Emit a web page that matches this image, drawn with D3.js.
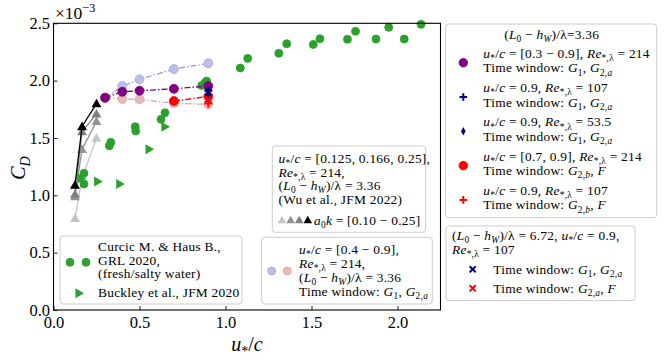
<!DOCTYPE html>
<html>
<head>
<meta charset="UTF-8">
<script src="https://cdn.jsdelivr.net/npm/d3@7"></script>
<style>
body { margin: 0; background: #fff; }
text { font-family: "Liberation Serif", serif; fill: #000; white-space: pre; }
text.leg { letter-spacing: 0.25px; }
</style>
</head>
<body>
<svg id="chart" width="664" height="361"></svg>
<script>
// values, C_D in units of 1e-3
var xTicks = [0, 0.5, 1.0, 1.5, 2.0];
var yTicks = [0, 0.5, 1.0, 1.5, 2.0, 2.5];

var curcicX = [0.177, 0.177, 0.325, 0.333, 0.475, 0.478, 0.625, 0.648, 0.862, 0.88, 0.89,
               1.086, 1.129, 1.310, 1.356, 1.510, 1.549, 1.709, 1.756, 1.875, 1.949, 2.039, 2.137];
var curcicY = [1.192, 1.099, 1.432, 1.462, 1.598, 1.561, 1.663, 1.720, 1.958, 1.98, 1.996,
               2.110, 2.194, 2.238, 2.322, 2.316, 2.365, 2.360, 2.430, 2.363, 2.465, 2.363, 2.491];

var buckleyX = [0.157, 0.253, 0.381, 0.552, 0.644];
var buckleyY = [1.146, 1.120, 1.099, 1.401, 1.598];

// Wu et al. 2022, one series per a0k, light to dark
var wuX = [0.125, 0.166, 0.25];
var wuY = [
  [0.80, 1.15, 1.50],
  [0.99, 1.40, 1.645],
  [1.01, 1.555, 1.71],
  [1.09, 1.60, 1.80]
];
var wuColors = ["#c4c4c4", "#939393", "#7f7f7f", "#000000"];

var seriesX = [0.3, 0.4, 0.5, 0.7, 0.9];
var lightBlueY = [1.851, 1.953, 2.011, 2.101, 2.151];
var lightRedY = [1.851, 1.840, 1.837, 1.802, 1.793];
var purpleY = [1.851, 1.903, 1.912, 1.929, 1.953];
var redX = [0.7, 0.9];
var redY = [1.822, 1.862];

var navyPlus = [0.9, 1.912];
var navyDiamond = [0.9, 1.885];
var blueCross = [0.9, 1.898];
var redCross = [0.9, 1.838];
var redPlus = [0.9, 1.800];

var svg = d3.select("#chart");
var x = d3.scaleLinear().domain([0, 2.25]).range([53.5, 440.5]);
var y = d3.scaleLinear().domain([0, 2.5]).range([310, 23.3]);

// writes a string with $..$ math parts into a text node as tspans
function mathText(sel, str, size) {
  var runs = [], math = false, i = 0;
  function push(t, it, lvl) {
    var last = runs[runs.length - 1];
    if (last && last.it === it && last.lvl === lvl) last.t += t;
    else runs.push({t: t, it: it, lvl: lvl});
  }
  while (i < str.length) {
    var c = str[i];
    if (c === "$") { math = !math; i++; continue; }
    if (math && (c === "_" || c === "^")) {
      var lvl = c === "_" ? -1 : 1, grp;
      i++;
      if (str[i] === "{") { var j = str.indexOf("}", i); grp = str.slice(i + 1, j); i = j + 1; }
      else { grp = str[i]; i++; }
      for (var k = 0; k < grp.length; k++) push(grp[k], /[A-Za-z]/.test(grp[k]), lvl);
      continue;
    }
    push(c, math && /[A-Za-z]/.test(c), 0);
    i++;
  }
  var prev = 0;
  runs.forEach(function(r) {
    var shift = r.lvl === -1 ? size * 0.25 : r.lvl === 1 ? -size * 0.42 : 0;
    sel.append("tspan")
      .attr("dy", shift - prev)
      .style("font-style", r.it ? "italic" : "normal")
      .style("font-size", (r.lvl ? size * 0.7 : size) + "px")
      .text(r.t);
    prev = shift;
  });
  return sel;
}

// marker drawing
function marker(g, type, px, py, color, opts) {
  opts = opts || {};
  var s = opts.size || 4.5;
  if (type === "circle") {
    g.append("circle").attr("cx", px).attr("cy", py).attr("r", s)
      .attr("fill", color).attr("stroke", opts.stroke || color).attr("stroke-width", 0.8);
  } else if (type === "tri") {
    g.append("path").attr("d", d3.symbol(d3.symbolTriangle, s * s * 2.2)())
      .attr("transform", "translate(" + px + "," + (py + 0.8) + ")").attr("fill", color);
  } else if (type === "right") {
    g.append("path").attr("d", d3.symbol(d3.symbolTriangle, s * s * 2.2)())
      .attr("transform", "translate(" + px + "," + py + ") rotate(90)").attr("fill", color);
  } else if (type === "plus") {
    g.append("path").attr("d", "M" + (px - s) + "," + py + "H" + (px + s) + "M" + px + "," + (py - s) + "V" + (py + s))
      .attr("stroke", color).attr("stroke-width", 2).attr("fill", "none");
  } else if (type === "cross") {
    var d = s * 0.8;
    g.append("path").attr("d", "M" + (px - d) + "," + (py - d) + "L" + (px + d) + "," + (py + d) + "M" + (px - d) + "," + (py + d) + "L" + (px + d) + "," + (py - d))
      .attr("stroke", color).attr("stroke-width", 2).attr("fill", "none");
  } else if (type === "diamond") {
    g.append("path").attr("d", "M" + px + "," + (py - s * 1.1) + "L" + (px + s * 0.6) + "," + py + "L" + px + "," + (py + s * 1.1) + "L" + (px - s * 0.6) + "," + py + "Z")
      .attr("fill", color);
  }
}

var plot = svg.append("g");
var line = d3.line().x(function(d) { return x(d[0]); }).y(function(d) { return y(d[1]); });
var dashDot = "6,2,1.5,2";

// Wu et al. triangles
wuY.forEach(function(vals, si) {
  var pts = wuX.map(function(v, k) { return [v, vals[k]]; });
  plot.append("path").attr("d", line(pts)).attr("fill", "none")
    .attr("stroke", wuColors[si]).attr("stroke-width", 1.3);
  pts.forEach(function(p) { marker(plot, "tri", x(p[0]), y(p[1]), wuColors[si], {size: 4.4}); });
});

// green data
curcicX.forEach(function(v, k) { marker(plot, "circle", x(v), y(curcicY[k]), "#2ca02c", {size: 4}); });
buckleyX.forEach(function(v, k) { marker(plot, "right", x(v), y(buckleyY[k]), "#2ca02c", {size: 4.4}); });

// light series
function zipX(xs, ys) { return xs.map(function(v, k) { return [v, ys[k]]; }); }
plot.append("path").attr("d", line(zipX(seriesX, lightBlueY))).attr("fill", "none")
  .attr("stroke", "#7b7bd0").attr("stroke-opacity", 0.8).attr("stroke-width", 1.2).attr("stroke-dasharray", dashDot);
plot.append("path").attr("d", line(zipX(seriesX, lightRedY))).attr("fill", "none")
  .attr("stroke", "#d08a8a").attr("stroke-opacity", 0.8).attr("stroke-width", 1.2).attr("stroke-dasharray", dashDot);
seriesX.forEach(function(v, k) {
  marker(plot, "circle", x(v), y(lightBlueY[k]), "#bdbdec", {size: 4.5, stroke: "#a5a5e0"});
  marker(plot, "circle", x(v), y(lightRedY[k]), "#e6baba", {size: 4.5, stroke: "#dca5a5"});
});

// purple and red
plot.append("path").attr("d", line(zipX(seriesX, purpleY))).attr("fill", "none")
  .attr("stroke", "#800080").attr("stroke-width", 1.3).attr("stroke-dasharray", dashDot);
plot.append("path").attr("d", line(zipX(redX, redY))).attr("fill", "none")
  .attr("stroke", "#ff0000").attr("stroke-width", 1.3).attr("stroke-dasharray", dashDot);
seriesX.forEach(function(v, k) { marker(plot, "circle", x(v), y(purpleY[k]), "#800080", {size: 4.5}); });
redX.forEach(function(v, k) { marker(plot, "circle", x(v), y(redY[k]), "#ff0000", {size: 4.5}); });

marker(plot, "plus", x(redPlus[0]), y(redPlus[1]), "#ff0000", {size: 4});
marker(plot, "cross", x(redCross[0]), y(redCross[1]), "#ff0000", {size: 4});
marker(plot, "diamond", x(navyDiamond[0]), y(navyDiamond[1]), "#000080", {size: 4.5});
marker(plot, "cross", x(blueCross[0]), y(blueCross[1]), "#000080", {size: 4});
marker(plot, "plus", x(navyPlus[0]), y(navyPlus[1]), "#000080", {size: 4});

// axes
var xAxis = d3.axisBottom(x).tickValues(xTicks).tickFormat(d3.format(".1f"))
  .tickSizeInner(-4).tickSizeOuter(0).tickPadding(6);
var yAxis = d3.axisLeft(y).tickValues(yTicks).tickFormat(d3.format(".1f"))
  .tickSizeInner(-4).tickSizeOuter(0).tickPadding(3.5);
var gx = svg.append("g").attr("transform", "translate(0,310)").call(xAxis);
var gy = svg.append("g").attr("transform", "translate(53.5,0)").call(yAxis);
[gx, gy].forEach(function(g) {
  g.select(".domain").remove();
  g.selectAll("line").attr("stroke", "#000").attr("stroke-width", 0.9);
  g.selectAll("text").attr("font-family", "Liberation Serif, serif").attr("font-size", 16.5).attr("fill", "#000");
});
svg.append("rect").attr("x", 53.5).attr("y", 23.3).attr("width", 387).attr("height", 286.7)
  .attr("fill", "none").attr("stroke", "#000").attr("stroke-width", 1.1);

mathText(svg.append("text").attr("x", 55).attr("y", 19), "×10$^{−3}$", 17.5);
mathText(svg.append("text").attr("x", 247).attr("y", 351).attr("text-anchor", "middle"), "$u_*/c$", 20);
mathText(svg.append("text").attr("transform", "translate(25,168) rotate(-90)").attr("text-anchor", "middle"), "$C_D$", 20);

// legends
var fs = 13.4;
function box(x0, y0, w, h) {
  svg.append("rect").attr("x", x0).attr("y", y0).attr("width", w).attr("height", h)
    .attr("rx", 3).attr("fill", "#fff").attr("fill-opacity", 0.85).attr("stroke", "#cccccc");
}
function lines(x0, ys, strs, anchor) {
  strs.forEach(function(s, k) {
    mathText(svg.append("text").attr("class", "leg").attr("x", x0).attr("y", ys[k]).attr("text-anchor", anchor || "start"), s, fs);
  });
}

// Curcic / Buckley
box(60, 236, 182, 68);
lines(98, [251, 264.5, 278, 297], ["Curcic M. & Haus B.,", "GRL 2020,", "(fresh/salty water)", "Buckley et al., JFM 2020"]);
marker(svg, "circle", 70, 262.3, "#2ca02c", {size: 4});
marker(svg, "circle", 86, 262.3, "#2ca02c", {size: 4});
marker(svg, "right", 78.3, 293.3, "#2ca02c", {size: 4.4});

// Wu et al.
box(272.3, 146, 153.4, 86.3);
lines(278.5, [163, 176.5, 190, 204], ["$u_*/c$ = [0.125, 0.166, 0.25],", "$Re_{*,λ}$ = 214,", "$(L_0 − h_W)/λ$ = 3.36", "(Wu et al., JFM 2022)"]);
wuColors.forEach(function(c, k) { marker(svg, "tri", 282 + k * 8.6, 220, c, {size: 3.8}); });
lines(314, [224.5], ["$a_0k$ = [0.10 − 0.25]"]);

// light series
box(261.7, 237.3, 170.6, 66.7);
lines(299, [254, 267.5, 281.5, 296], ["$u_*/c$ = [0.4 − 0.9],", "$Re_{*,λ}$ = 214,", "$(L_0 − h_W)/λ$ = 3.36", "Time window: $G_1$, $G_{2,a}$"]);
marker(svg, "circle", 271.7, 271, "#bdbdec", {size: 4, stroke: "#a5a5e0"});
marker(svg, "circle", 287.3, 271, "#e6baba", {size: 4, stroke: "#dca5a5"});

// right legend 1
box(445.7, 24, 211, 193.7);
lines(551.7, [39], ["$(L_0 − h_W)/λ$=3.36"], "middle");
var rightEntries = [
  ["$u_*/c$ = [0.3 − 0.9], $Re_{*,λ}$ = 214", "Time window: $G_1$, $G_{2,a}$", "circle", "#800080"],
  ["$u_*/c$ = 0.9, $Re_{*,λ}$ = 107", "Time window: $G_1$, $G_{2,a}$", "plus", "#000080"],
  ["$u_*/c$ = 0.9, $Re_{*,λ}$ = 53.5", "Time window: $G_1$, $G_{2,a}$", "diamond", "#000080"],
  ["$u_*/c$ = [0.7, 0.9], $Re_{*,λ}$ = 214", "Time window: $G_{2,b}$, $F$", "circle", "#ff0000"],
  ["$u_*/c$ = 0.9, $Re_{*,λ}$ = 107", "Time window: $G_{2,b}$, $F$", "plus", "#ff0000"]
];
rightEntries.forEach(function(e, k) {
  var cy = 62.7 + k * 34.3;
  lines(483.3, [cy - 5, cy + 9.5], [e[0], e[1]]);
  marker(svg, e[2], 463.3, cy, e[3], {size: e[2] === "circle" ? 4.3 : 3.8});
});

// right legend 2
box(446, 226, 189, 74.7);
lines(452, [240, 254], ["$(L_0 − h_W)/λ$ = 6.72, $u_*/c$ = 0.9,", "$Re_{*,λ}$ = 107"]);
lines(493.3, [273.5, 292.5], ["Time window: $G_1$, $G_{2,a}$", "Time window: $G_{2,a}$, $F$"]);
marker(svg, "cross", 472.7, 269.3, "#000080", {size: 3.8});
marker(svg, "cross", 472.7, 288.3, "#ff0000", {size: 3.8});
</script>
</body>
</html>
